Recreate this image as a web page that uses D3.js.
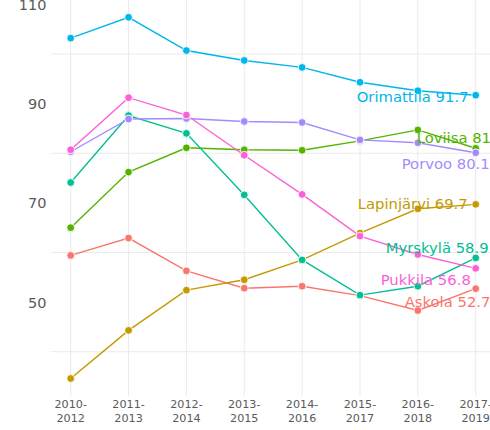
<!DOCTYPE html>
<html>
<head>
<meta charset="utf-8">
<script src="https://cdn.jsdelivr.net/npm/d3@7"></script>
<style>
  body { margin: 0; background: #fff; }
  svg { display: block; font-family: "DejaVu Sans", sans-serif; }
</style>
</head>
<body>
<div id="wrapper"></div>
<script>
// periods on the x axis
var periods = ["2010-2012", "2011-2013", "2012-2014", "2013-2015",
               "2014-2016", "2015-2017", "2016-2018", "2017-2019"];

// one array per municipality
var askola     = [59.4, 62.9, 56.3, 52.8, 53.2, 51.3, 48.3, 52.7];
var lapinjarvi = [34.6, 44.3, 52.4, 54.5, 58.5, 63.9, 68.8, 69.7];
var loviisa    = [65.0, 76.2, 81.1, 80.7, 80.6, 82.5, 84.7, 81];
var myrskyla   = [74.1, 87.6, 84.0, 71.6, 58.5, 51.4, 53.2, 58.9];
var orimattila = [103.2, 107.4, 100.7, 98.7, 97.3, 94.3, 92.6, 91.7];
var porvoo     = [80.3, 86.9, 87.0, 86.4, 86.2, 82.7, 82.1, 80.1];
var pukkila    = [80.7, 91.2, 87.7, 79.6, 71.7, 63.3, 59.6, 56.8];

var names = ["Askola", "Lapinjärvi", "Loviisa", "Myrskylä", "Orimattila", "Porvoo", "Pukkila"];
var values = [askola, lapinjarvi, loviisa, myrskyla, orimattila, porvoo, pukkila];

var yTicks = [50, 70, 90, 110];
var yGrid = [40, 60, 80, 100];

var colors = ["#F8766D", "#C49A00", "#53B400", "#00C094", "#00B6EB", "#A58AFF", "#FB61D7"];

// label nudges (pixels from the last point), like ggrepel placed them
var labelNudge = {
  "Askola":     [-71, 13],
  "Lapinjärvi": [-118, -0.3],
  "Loviisa":    [-59, -11],
  "Myrskylä":   [-90, -10.6],
  "Orimattila": [-119, 1.8],
  "Porvoo":     [-74, 10.8],
  "Pukkila":    [-95, 11.6]
};

var W = 490, H = 430;
var svg = d3.select('#wrapper').append('svg')
  .attr('width', W).attr('height', H);

var x = d3.scalePoint().domain(periods).range([70.7, 475.7]);
var y = d3.scaleLinear().domain([40, 100]).range([351.7, 54]);

var series = names.map(function(n, i) {
  return { name: n, color: colors[i], vals: values[i] };
});

// grid
var grid = svg.append('g');
grid.selectAll('line.h').data(yGrid).enter().append('line')
  .attr('x1', 51).attr('x2', W)
  .attr('y1', function(d) { return y(d); }).attr('y2', function(d) { return y(d); })
  .style('stroke', '#ebebeb').style('stroke-width', 1);
grid.selectAll('line.v').data(periods).enter().append('line')
  .attr('x1', function(d) { return x(d); }).attr('x2', function(d) { return x(d); })
  .attr('y1', 0).attr('y2', 396)
  .style('stroke', '#ebebeb').style('stroke-width', 1);

// y tick labels
svg.append('g').selectAll('text').data(yTicks).enter().append('text')
  .attr('x', 46.5).attr('y', function(d) { return y(d); })
  .attr('dy', '0.38em')
  .attr('text-anchor', 'end')
  .style('font-size', '14.5px').style('fill', '#5a5a5a')
  .text(function(d) { return d; });

// x tick labels, two lines each
var xt = svg.append('g').selectAll('text').data(periods).enter().append('text')
  .attr('text-anchor', 'middle')
  .style('font-size', '11.2px').style('fill', '#5a5a5a');
xt.append('tspan')
  .attr('x', function(d) { return x(d); }).attr('y', 408)
  .text(function(d) { return d.split('-')[0] + '-'; });
xt.append('tspan')
  .attr('x', function(d) { return x(d); }).attr('y', 422)
  .text(function(d) { return d.split('-')[1]; });

var line = d3.line()
  .x(function(d, i) { return x(periods[i]); })
  .y(function(d) { return y(d); });

svg.append('g').selectAll('path').data(series).enter().append('path')
  .attr('d', function(d) { return line(d.vals); })
  .style('fill', 'none')
  .style('stroke', function(d) { return d.color; })
  .style('stroke-width', 1.4);

var pts = svg.append('g');
series.forEach(function(s) {
  pts.selectAll(null).data(s.vals).enter().append('circle')
    .attr('cx', function(d, i) { return x(periods[i]); })
    .attr('cy', function(d) { return y(d); })
    .attr('r', 3.9)
    .style('fill', s.color)
    .style('stroke', '#fff')
    .style('stroke-width', 0.9);
});

// end labels
svg.append('g').selectAll('text').data(series).enter().append('text')
  .attr('x', function(d) { return x(periods[periods.length - 1]) + labelNudge[d.name][0]; })
  .attr('y', function(d) { return y(d.vals[d.vals.length - 1]) + labelNudge[d.name][1]; })
  .attr('dy', '0.36em')
  .style('font-size', '14.8px')
  .style('fill', function(d) { return d.color; })
  .text(function(d) { return d.name + ' ' + d.vals[d.vals.length - 1]; });
</script>
</body>
</html>
